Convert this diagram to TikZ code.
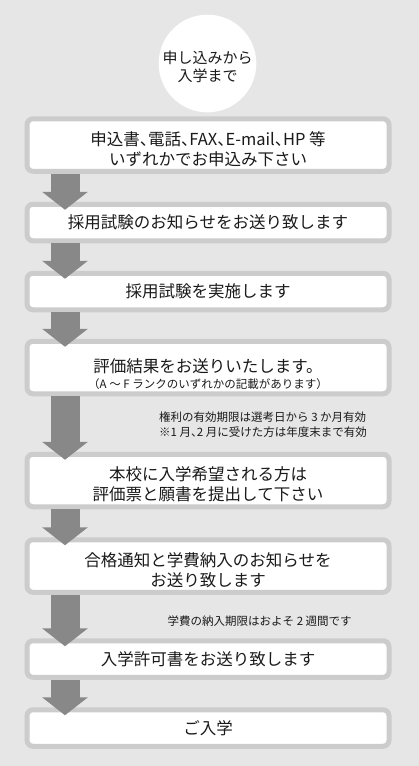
\documentclass[tikz,border=0pt]{standalone}
\usepackage{fontspec}
\setmainfont{Noto Sans CJK JP}
\usetikzlibrary{arrows.meta, positioning}
\definecolor{bggray}{HTML}{E6E6E6}
\definecolor{framegray}{HTML}{CCCCCC}
\definecolor{arrowgray}{HTML}{888888}
\definecolor{textgray}{HTML}{1A1A1A}
\newcommand{\smallnote}{\fontsize{11.5}{14.5}\selectfont}
\newcommand{\lowstrut}[1]{\rule{0pt}{#1}}
\newcommand{\halfpunct}{\addfontfeatures{RawFeature=+halt}}

\begin{document}
\begin{tikzpicture}[x=1pt, y=-1pt, line join=round,
	stepbox/.style={draw=framegray, line width=5pt, fill=white, rounded corners=6pt,
		minimum width=362pt, minimum height=36.5pt, inner sep=0pt, align=center,
		text=textgray, font=\fontsize{16.5}{20}\selectfont},
	stepboxtall/.style={stepbox, minimum height=52.5pt},
	startcircle/.style={circle, fill=white, minimum size=88pt, inner sep=0pt,
		align=center, text=textgray, font=\fontsize{15}{18}\selectfont},
	note/.style={anchor=west, inner sep=0pt, align=left, text=textgray, font=\smallnote},
	flowarrow/.style={draw=arrowgray, line width=29pt,
		-{Triangle[length=18pt, width=45pt]}, shorten >=-8pt}]
	
	% ---- background ----
	\fill[bggray] (0,0) rectangle (419,766);
	\useasboundingbox (0,0) rectangle (419,766);
	
	% ---- title circle ----
	\node[startcircle] (start) at (207.5,63.5) {\lowstrut{19pt}申し込みから\\入学まで};
	
	% ---- steps ----
	\node[stepboxtall] (s1) at (208,145) {\lowstrut{22pt}{\halfpunct 申込書、電話、FAX、E-mail、HP 等}\\いずれかでお申込み下さい};
	\node[stepbox] (s2) at (208,222.5) {採用試験のお知らせをお送り致します};
	\node[stepbox] (s3) at (208,291.5) {採用試験を実施します};
	\node[stepboxtall] (s4) at (208,367.5) {\lowstrut{27pt}評価結果をお送りいたします。\\[-4pt]{\smallnote （A ～ F ランクのいずれかの記載があります）}};
	\node[stepboxtall] (s5) at (208,480.5) {\lowstrut{22pt}本校に入学希望される方は\\評価票と願書を提出して下さい};
	\node[stepboxtall] (s6) at (208,566) {\lowstrut{22pt}合格通知と学費納入のお知らせを\\お送り致します};
	\node[stepbox] (s7) at (208,659) {入学許可書をお送り致します};
	\node[stepbox] (s8) at (208,728) {ご入学};
	
	% ---- notes beside the long arrows ----
	\node[note] (n1) at (159,424.5) {権利の有効期限は選考日から 3 か月有効\\{\halfpunct ※1 月、2 月に受けた方は年度末まで有効}};
	\node[note] (n2) at (167.5,621) {学費の納入期限はおよそ 2 週間です};
	
	% ---- arrows ----
	\coordinate (ax) at (65,0);
	\foreach \a/\b in {s1/s2, s2/s3, s3/s4, s4/s5, s5/s6, s6/s7, s7/s8}
	\draw[flowarrow] (\a.south -| ax) -- (\b.north -| ax);
	
\end{tikzpicture}
\end{document}
